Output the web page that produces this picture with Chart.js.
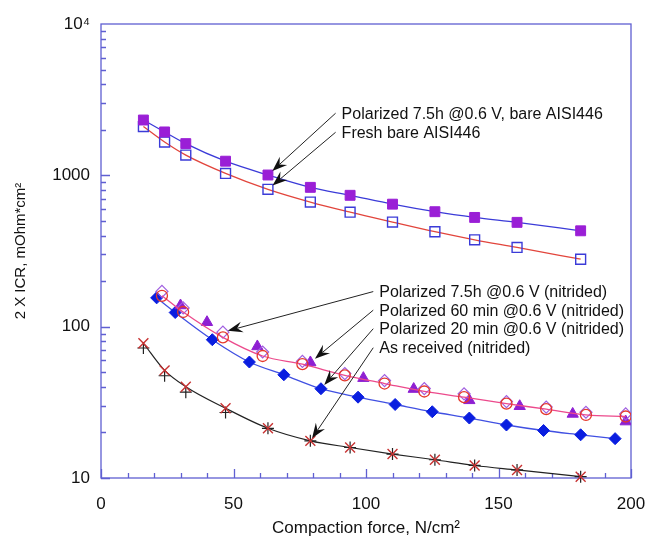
<!DOCTYPE html>
<html>
<head>
<meta charset="utf-8">
<script src="https://cdn.jsdelivr.net/npm/chart.js@4.4.1/dist/chart.umd.min.js"></script>
<style>
  html, body { margin: 0; padding: 0; background: #fff; }
  #wrap { width: 652px; height: 539px; }
</style>
</head>
<body>
<div id="wrap"><canvas id="icrChart" width="652" height="539"></canvas></div>
<script>
// ICR vs compaction force

// compaction force (N/cm2) for each group
const forceBare = [16, 24, 32, 47, 63, 79, 94, 110, 126, 141, 157, 181];
const force20 = [21, 28, 42, 56, 69, 83, 97, 111, 125, 139, 153, 167, 181, 194];
const force75 = [23, 31, 46, 61, 76, 92, 107, 122, 137, 153, 168, 183, 198];
const force60 = [30, 40, 59, 79, 99, 118, 139, 158, 178, 198];

// 2 X ICR values, mOhm*cm2
const polBare = [2320, 1935, 1620, 1240, 1005, 833, 738, 645, 575, 527, 489, 430];
const freshBare = [2100, 1660, 1360, 1030, 808, 666, 571, 491, 424, 375, 334, 279];
const pol75Circle = [160, 125, 85, 64, 56.5, 47.7, 42.1, 37.3, 34.2, 31, 28.5, 26.1, 25.5];
const pol75Diamond = [171, 133, 92, 68, 59, 49, 44, 39, 36, 32, 29.4, 27.2, 26.5];
const pol60 = [138, 107, 74, 58, 45.7, 38.7, 32.6, 29.8, 26.5, 23.6];
const pol20 = [155, 124, 82, 58.4, 48.1, 38.9, 34.2, 30.6, 27.4, 24.9, 22.4, 20.6, 19.3, 18.2];
const asRecvA = [77.7, 51.4, 40.1, 28.9, 21.3, 17.6, 15.9, 14.4, 13.2, 12.1, 11.3, 10.2];
const asRecvB = [72.3, 47.4, 36.9, 27.1, 21.3, 17.6, 15.9, 14.4, 13.2, 12.1, 11.3, 10.2];

// axis text
const xTickLabels = ["0", "50", "100", "150", "200"];
const yTickLabels = ["10", "100", "1000", "10⁴"];
const xTitle = "Compaction force, N/cm²";
const yTitle = "2 X ICR, mOhm*cm²";

// annotation texts
const noteTexts = [
  "Polarized 7.5h @0.6 V, bare AISI446",
  "Fresh bare AISI446",
  "Polarized 7.5h @0.6 V (nitrided)",
  "Polarized 60 min @0.6 V (nitrided)",
  "Polarized 20 min @0.6 V (nitrided)",
  "As received (nitrided)"
];

const axisColor = "#5f5fd2";

function pts(xs, ys) {
  return ys.map((v, i) => ({ x: xs[i], y: v }));
}

// label anchor in data coords + which point the arrow hits
const notes = [
  { x: 90.8, y: 2535, ds: 0, i: 4, gap: 6 },
  { x: 90.8, y: 1897, ds: 1, i: 4, gap: 6 },
  { x: 105, y: 168, ds: 3, i: 2, gap: 5 },
  { x: 105, y: 126.6, ds: 4, i: 3, gap: 6 },
  { x: 105, y: 95.5, ds: 5, i: 5, gap: 5 },
  { x: 105, y: 71.5, ds: 6, i: 5, gap: 3 }
];

// frame and inside ticks
const framePlugin = {
  id: "frame",
  beforeDatasetsDraw(chart) {
    const { ctx, chartArea: a, scales: { x, y } } = chart;
    ctx.save();
    ctx.strokeStyle = axisColor;
    ctx.lineWidth = 1.3;
    ctx.strokeRect(a.left, a.top, a.right - a.left, a.bottom - a.top);
    ctx.beginPath();
    for (let v = 0; v <= 200; v += 10) {
      const px = Math.round(x.getPixelForValue(v)) + 0.5;
      const len = v % 50 === 0 ? 9 : 5;
      ctx.moveTo(px, a.bottom);
      ctx.lineTo(px, a.bottom - len);
    }
    for (let d = 10; d < 10000; d *= 10) {
      for (let m = 1; m < 10; m++) {
        const py = Math.round(y.getPixelForValue(d * m)) + 0.5;
        const len = m === 1 ? 9 : 5;
        ctx.moveTo(a.left, py);
        ctx.lineTo(a.left + len, py);
      }
    }
    ctx.stroke();
    ctx.restore();
  }
};

// text labels with arrows
const notesPlugin = {
  id: "notes",
  afterDatasetsDraw(chart) {
    const { ctx, scales: { x, y } } = chart;
    ctx.save();
    ctx.font = "16px 'Liberation Sans', Arial, sans-serif";
    ctx.textAlign = "left";
    ctx.textBaseline = "middle";
    notes.forEach((n, k) => {
      const lx = x.getPixelForValue(n.x);
      const ly = y.getPixelForValue(n.y);
      ctx.fillStyle = "#111";
      ctx.fillText(noteTexts[k], lx, ly);

      const p = chart.getDatasetMeta(n.ds).data[n.i];
      const sx = lx - 6, sy = ly - 1;
      let dx = sx - p.x, dy = sy - p.y;
      const len = Math.hypot(dx, dy);
      dx /= len; dy /= len;
      const tx = p.x + dx * n.gap, ty = p.y + dy * n.gap;

      ctx.strokeStyle = "#222";
      ctx.lineWidth = 1;
      ctx.beginPath();
      ctx.moveTo(sx, sy);
      ctx.lineTo(tx + dx * 10, ty + dy * 10);
      ctx.stroke();

      // barbed arrow head
      const hl = 15, hw = 5.5;
      const nx = -dy, ny = dx;
      ctx.fillStyle = "#111";
      ctx.beginPath();
      ctx.moveTo(tx, ty);
      ctx.lineTo(tx + dx * hl + nx * hw, ty + dy * hl + ny * hw);
      ctx.lineTo(tx + dx * hl * 0.65, ty + dy * hl * 0.65);
      ctx.lineTo(tx + dx * hl - nx * hw, ty + dy * hl - ny * hw);
      ctx.closePath();
      ctx.fill();
    });
    ctx.restore();
  }
};

Chart.defaults.font.family = "'Liberation Sans', Arial, sans-serif";
Chart.defaults.color = "#111";

const ctx = document.getElementById("icrChart");

new Chart(ctx, {
  type: "scatter",
  data: {
    datasets: [
      {
        label: noteTexts[0],
        data: pts(forceBare, polBare),
        showLine: true,
        cubicInterpolationMode: "monotone",
        borderColor: "#3b3bd8",
        borderWidth: 1.3,
        pointStyle: "rect",
        pointRadius: 7,
        pointBackgroundColor: "#9a1fd6",
        pointBorderColor: "#9a1fd6",
        pointBorderWidth: 1
      },
      {
        label: noteTexts[1],
        data: pts(forceBare, freshBare),
        showLine: true,
        cubicInterpolationMode: "monotone",
        borderColor: "#e2453c",
        borderWidth: 1.3,
        pointStyle: "rect",
        pointRadius: 7,
        pointBackgroundColor: "rgba(0,0,0,0)",
        pointBorderColor: "#3b3bd8",
        pointBorderWidth: 1.4
      },
      {
        label: noteTexts[2] + " a",
        data: pts(force75, pol75Circle),
        showLine: true,
        cubicInterpolationMode: "monotone",
        borderColor: "#ec4a8c",
        borderWidth: 1.3,
        pointStyle: "circle",
        pointRadius: 5.5,
        pointBackgroundColor: "rgba(0,0,0,0)",
        pointBorderColor: "#e5392c",
        pointBorderWidth: 1.3
      },
      {
        label: noteTexts[2],
        data: pts(force75, pol75Diamond),
        showLine: false,
        pointStyle: "rectRot",
        pointRadius: 6,
        pointBackgroundColor: "rgba(0,0,0,0)",
        pointBorderColor: "#a05ee0",
        pointBorderWidth: 1.2
      },
      {
        label: noteTexts[3],
        data: pts(force60, pol60),
        showLine: false,
        pointStyle: "triangle",
        pointRadius: 6.5,
        pointBackgroundColor: "#8e1fd2",
        pointBorderColor: "#8e1fd2",
        pointBorderWidth: 1
      },
      {
        label: noteTexts[4],
        data: pts(force20, pol20),
        showLine: true,
        cubicInterpolationMode: "monotone",
        borderColor: "#4050e2",
        borderWidth: 1.3,
        pointStyle: "rectRot",
        pointRadius: 6,
        pointBackgroundColor: "#0a1ee0",
        pointBorderColor: "#0a1ee0",
        pointBorderWidth: 1
      },
      {
        label: noteTexts[5],
        data: pts(forceBare, asRecvA),
        showLine: true,
        cubicInterpolationMode: "monotone",
        borderColor: "#222",
        borderWidth: 1.2,
        pointStyle: "crossRot",
        pointRadius: 7,
        pointBorderColor: "#c83232",
        pointBorderWidth: 1.4,
        clip: false
      },
      {
        label: noteTexts[5] + " b",
        data: pts(forceBare, asRecvB),
        showLine: false,
        pointStyle: "cross",
        pointRadius: 6,
        pointBorderColor: "#222",
        pointBorderWidth: 1.2,
        clip: false
      }
    ]
  },
  options: {
    responsive: false,
    animation: false,
    devicePixelRatio: 1,
    layout: { padding: { top: 24, right: 21, bottom: 0, left: 0 } },
    plugins: {
      legend: { display: false },
      tooltip: { enabled: false }
    },
    scales: {
      x: {
        type: "linear",
        min: 0,
        max: 200,
        // grid hidden; tickLength only spaces the labels from the axis
        grid: { display: false, drawTicks: true, tickLength: 16 },
        border: { display: false },
        ticks: {
          stepSize: 50,
          padding: 0,
          font: { size: 17 },
          callback: (v) => xTickLabels[v / 50]
        },
        title: {
          display: true,
          text: xTitle,
          font: { size: 17 },
          padding: { top: 0, bottom: 0 }
        },
        afterFit: (scale) => { scale.height = 61; }
      },
      y: {
        type: "logarithmic",
        min: 10,
        max: 10000,
        grid: { display: false, drawTicks: true, tickLength: 11 },
        border: { display: false },
        ticks: {
          autoSkip: false,
          padding: 0,
          font: { size: 17 },
          callback: (v) => {
            const p = Math.log10(v);
            if (Math.abs(p - Math.round(p)) > 1e-9) return "";
            return yTickLabels[Math.round(p) - 1];
          }
        },
        title: {
          display: true,
          text: yTitle,
          font: { size: 15 },
          padding: { top: 12, bottom: 0 }
        },
        afterFit: (scale) => { scale.width = 101; }
      }
    }
  },
  plugins: [framePlugin, notesPlugin]
});
</script>
</body>
</html>
